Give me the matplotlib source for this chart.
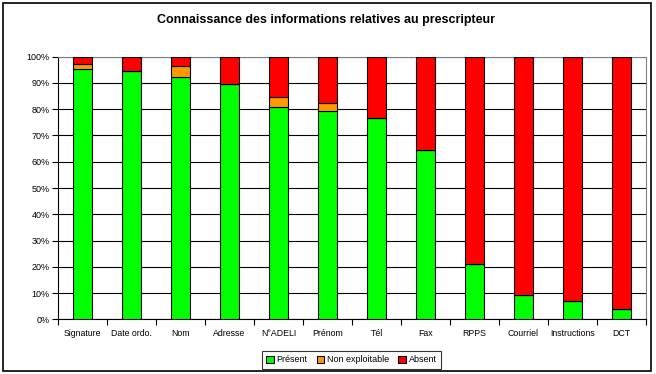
import matplotlib
matplotlib.use("Agg")
import matplotlib.pyplot as plt
from matplotlib.patches import Rectangle
from matplotlib.ticker import FuncFormatter, MultipleLocator
import numpy as np

plt.rcParams['font.family'] = ['Liberation Sans', 'DejaVu Sans']

categories = ['Signature', 'Date ordo.', 'Nom', 'Adresse', 'N°ADELI', 'Prénom',
              'Tél', 'Fax', 'RPPS', 'Courriel', 'Instructions', 'DCT']
present = [95.4, 94.4, 92.4, 89.5, 80.7, 79.2, 76.5, 64.5, 21.2, 9.2, 6.9, 3.8]
non_exploitable = [1.9, 0, 4.1, 0, 3.8, 3.1, 0, 0, 0, 0, 0, 0]
absent = [2.7, 5.6, 3.5, 10.5, 15.5, 17.7, 23.5, 35.5, 78.8, 90.8, 93.1, 96.2]

W, H = 656, 374
fig = plt.figure(figsize=(W / 100, H / 100), dpi=100)
ax = fig.add_axes([58 / W, (H - 319.3) / H, 588 / W, 262.6 / H])

# outer frame around the whole chart
fig.patches.append(Rectangle((2.5 / W, 3 / H), 648 / W, 368.5 / H, transform=fig.transFigure,
                             fill=False, edgecolor='black', linewidth=1.2))

x = np.arange(len(categories))
bw = 0.4
ax.bar(x, present, bw, color='#00FF00', edgecolor='black', linewidth=0.8, label='Présent', zorder=3)
ax.bar(x, non_exploitable, bw, bottom=present, color='#FF9900', edgecolor='black', linewidth=0.8,
       label='Non exploitable', zorder=3)
bottom2 = [p + n for p, n in zip(present, non_exploitable)]
ax.bar(x, absent, bw, bottom=bottom2, color='#FF0000', edgecolor='black', linewidth=0.8,
       label='Absent', zorder=3)

ax.set_xlim(-0.5, len(categories) - 0.5)
ax.set_ylim(0, 100)
ax.yaxis.set_major_locator(MultipleLocator(10))
ax.yaxis.set_major_formatter(FuncFormatter(lambda v, p: '%d%%' % v))
ax.grid(axis='y', color='black', linewidth=0.8, zorder=0)

ax.set_xticks(x)
ax.set_xticklabels(categories)
ax.set_xticks(np.arange(-0.5, len(categories)), minor=True)
ax.tick_params(axis='x', which='major', length=0, pad=7, labelsize=6.3)
ax.tick_params(axis='x', which='minor', length=4, width=0.8, direction='out')
ax.tick_params(axis='y', length=4, width=0.8, pad=2, labelsize=6.5)

ax.spines['top'].set_color('#808080')
ax.spines['right'].set_color('#808080')
ax.spines['left'].set_linewidth(0.8)
ax.spines['bottom'].set_linewidth(0.8)

fig.text(0.497, 1 - 20 / H, 'Connaissance des informations relatives au prescripteur',
         ha='center', va='center', fontsize=9, fontweight='bold')

leg = fig.legend(loc='center', bbox_to_anchor=(351.5 / W, 1 - 360 / H), ncol=3, fontsize=6.5,
                 frameon=True, fancybox=False, handlelength=0.8, handleheight=0.8,
                 handletextpad=0.35, columnspacing=1.0, borderpad=0.45)
leg.get_frame().set_edgecolor('black')
leg.get_frame().set_linewidth(0.8)

fig.savefig('out.png', dpi=100)
